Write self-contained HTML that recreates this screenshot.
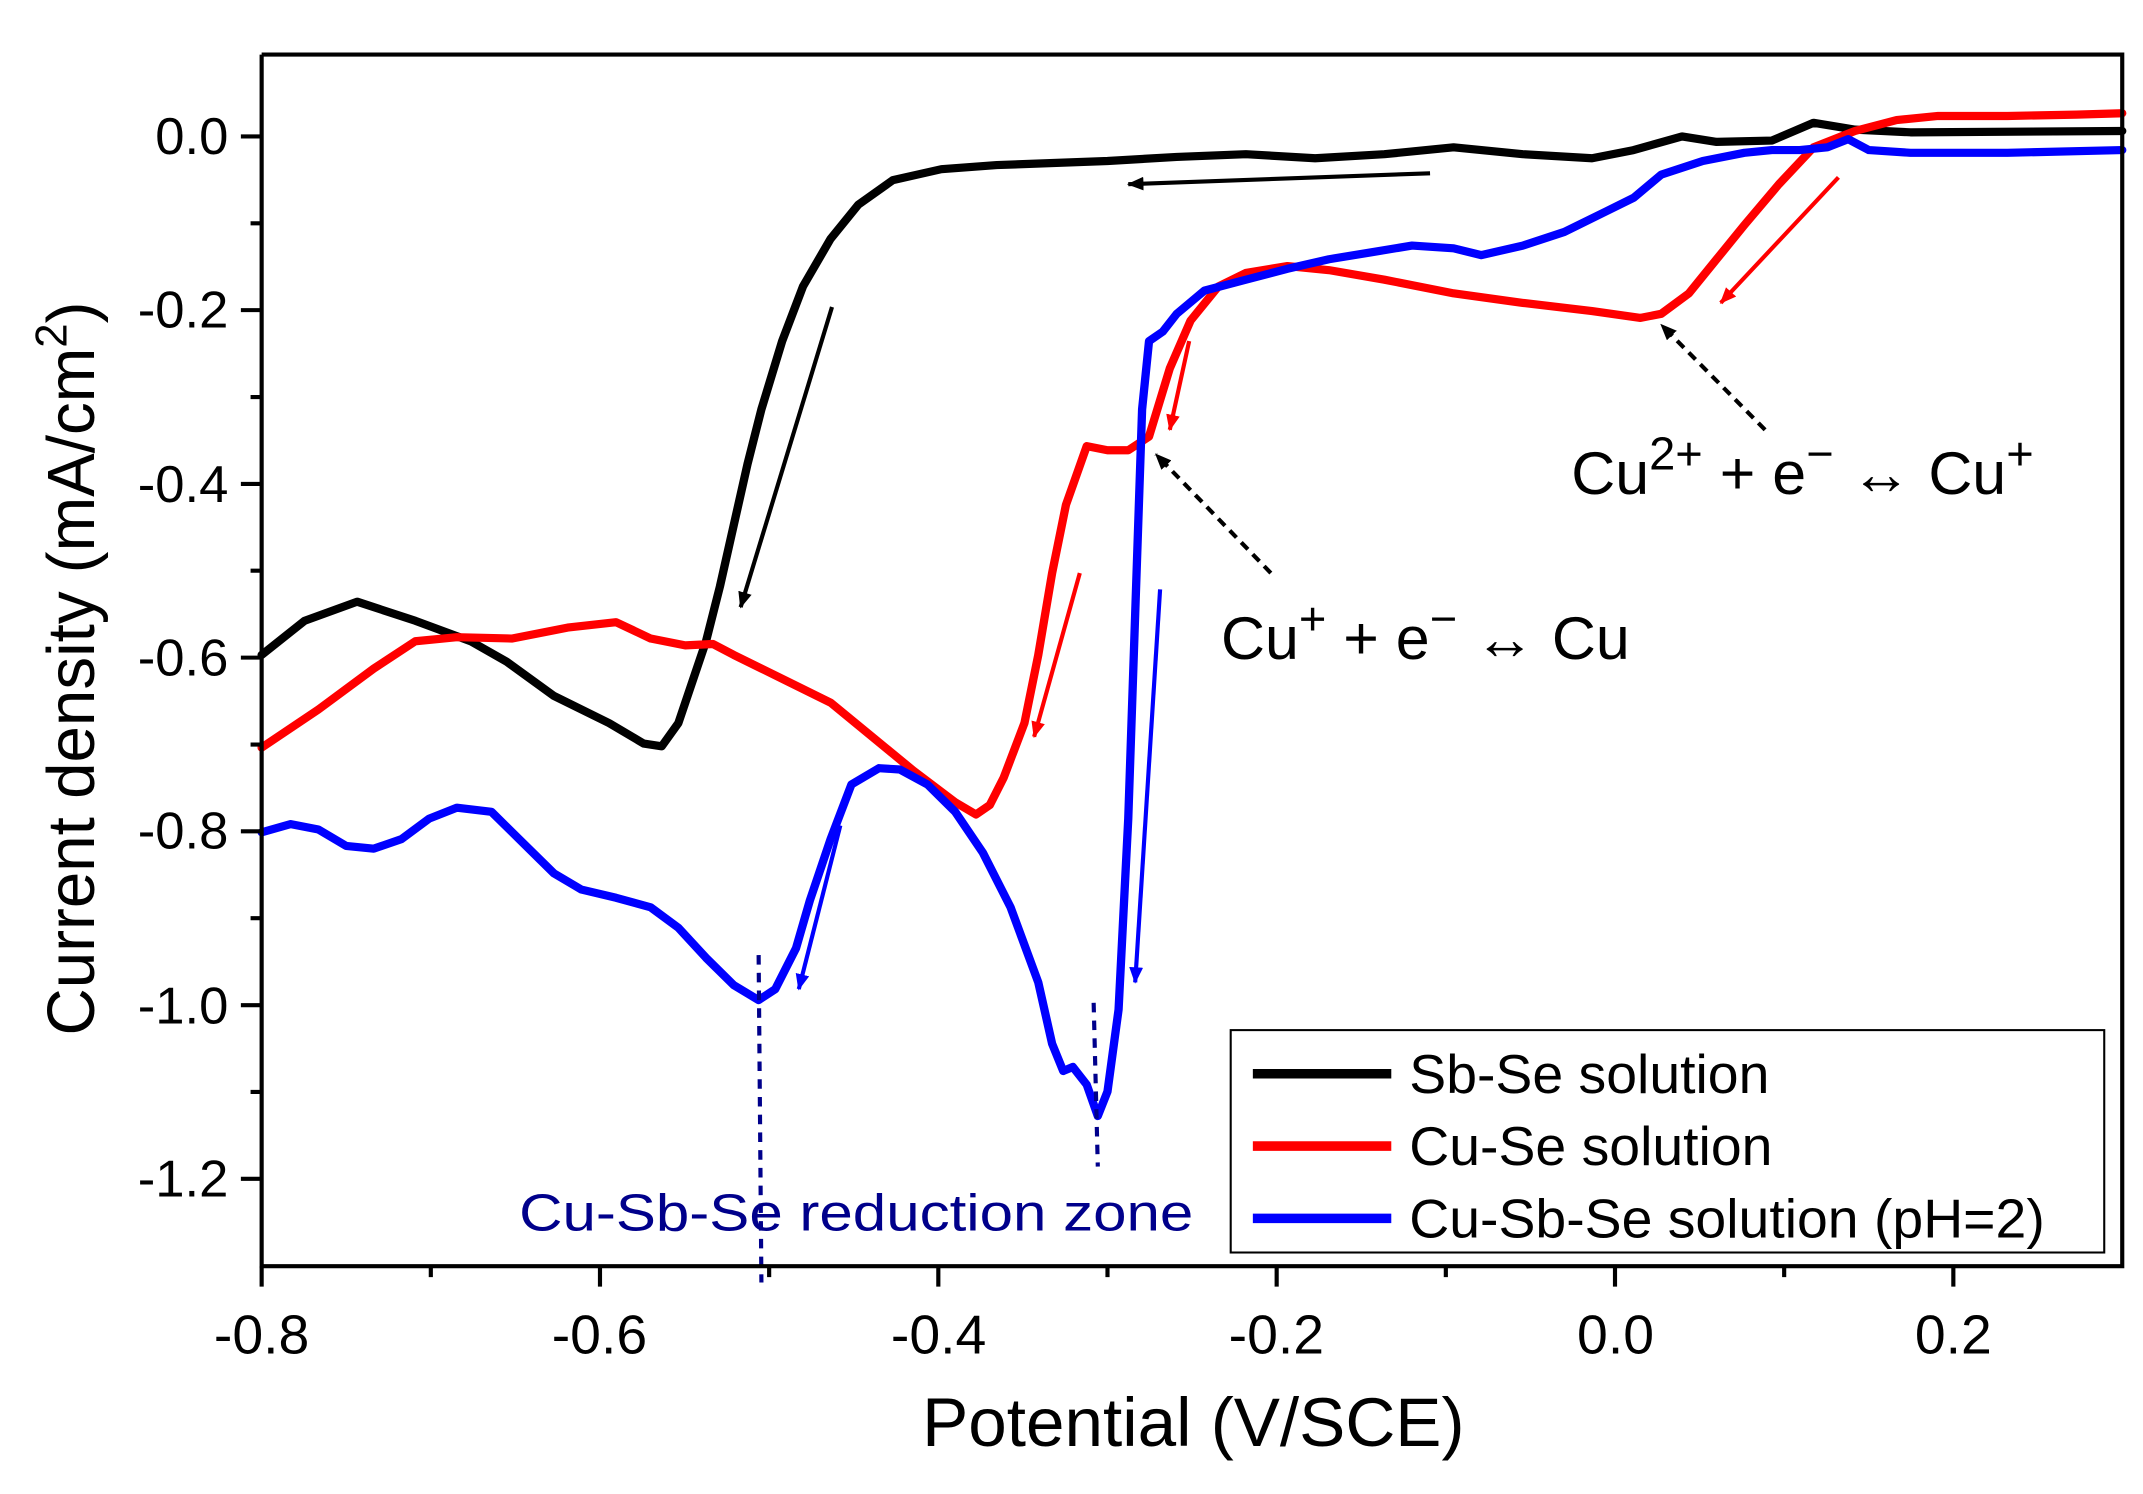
<!DOCTYPE html>
<html><head><meta charset="utf-8"><style>html,body{margin:0;padding:0;background:#fff}svg{display:block}</style></head>
<body>
<svg width="2143" height="1494" viewBox="0 0 1548 1095" preserveAspectRatio="none" xmlns="http://www.w3.org/2000/svg" font-family="Liberation Sans, sans-serif">
<rect width="1548" height="1095" fill="#fff"/>
<g fill="none" stroke-linejoin="round" stroke-linecap="round">
<polyline stroke="#000" stroke-width="6" points="189,480 220,455 258,441 300,455 340,470 366,485 400,510 440,530 465,545 478,547 490,530 500,500 510,470 520,430 530,385 540,340 550,300 565,250 580,210 600,175 620,150 645,132 680,124 720,121 800,118 850,115 900,113 950,116 1000,113 1050,108 1100,113 1150,116 1180,110 1215,100 1240,104 1280,103 1310,90 1340,95 1380,97 1533,96"/>
<polyline stroke="#f00" stroke-width="6" points="189,548 230,520 270,490 300,470 330,467 370,468 410,460 445,456 470,468 495,473 515,472 530,480 550,490 570,500 600,515 630,540 660,565 690,588 705,597 715,590 725,570 740,530 750,480 760,420 770,370 785,327 800,330 815,330 830,320 845,270 860,235 880,210 900,200 930,195 960,198 1000,205 1050,215 1100,222 1150,228 1185,233 1200,230 1220,215 1240,190 1260,165 1285,135 1310,108 1340,96 1370,88 1400,85 1450,85 1500,84 1533,83"/>
<polyline stroke="#00f" stroke-width="6" points="189,610 210,604 230,608 250,620 270,622 290,615 310,600 330,592 355,595 375,615 400,640 420,652 445,658 470,665 490,680 510,702 530,722 548,733 560,725 575,695 585,660 600,615 615,575 635,563 650,564 670,575 690,595 710,625 730,665 750,720 760,765 768,785 775,782 785,795 793,818 800,800 808,740 815,600 820,450 825,300 830,250 840,243 850,230 870,213 900,205 930,197 960,190 990,185 1020,180 1050,182 1070,187 1100,180 1130,170 1160,155 1180,145 1200,128 1230,118 1260,112 1280,110 1300,110 1320,108 1335,102 1350,110 1380,112 1450,112 1533,110"/>
</g>
<defs>
<marker id="ak" markerWidth="12" markerHeight="10" refX="11" refY="5" orient="auto" markerUnits="userSpaceOnUse"><path d="M0,0L12,5L0,10z" fill="#000"/></marker>
<marker id="ar" markerWidth="12" markerHeight="10" refX="11" refY="5" orient="auto" markerUnits="userSpaceOnUse"><path d="M0,0L12,5L0,10z" fill="#f00"/></marker>
<marker id="ab" markerWidth="12" markerHeight="10" refX="11" refY="5" orient="auto" markerUnits="userSpaceOnUse"><path d="M0,0L12,5L0,10z" fill="#00f"/></marker>
</defs>
<g stroke-width="3">
<line x1="1033" y1="127" x2="815" y2="135" stroke="#000" marker-end="url(#ak)"/>
<line x1="601" y1="225" x2="535" y2="445" stroke="#000" marker-end="url(#ak)"/>
<line x1="1328" y1="130" x2="1243" y2="222" stroke="#f00" marker-end="url(#ar)"/>
<line x1="859" y1="250" x2="845" y2="315" stroke="#f00" marker-end="url(#ar)"/>
<line x1="780" y1="420" x2="747" y2="540" stroke="#f00" marker-end="url(#ar)"/>
<line x1="838" y1="432" x2="820" y2="720" stroke="#00f" marker-end="url(#ab)"/>
<line x1="607" y1="605" x2="577" y2="725" stroke="#00f" marker-end="url(#ab)"/>
<line x1="1275" y1="315" x2="1200" y2="238" stroke="#000" stroke-dasharray="7,5" marker-end="url(#ak)"/>
<line x1="918" y1="420" x2="835" y2="333" stroke="#000" stroke-dasharray="7,5" marker-end="url(#ak)"/>
<line x1="548" y1="700" x2="550" y2="940" stroke="#00008b" stroke-dasharray="7,6"/>
<line x1="790" y1="735" x2="793" y2="855" stroke="#00008b" stroke-dasharray="7,6"/>
</g>
<text x="1135" y="362" font-size="44">Cu<tspan dy="-18" font-size="34">2+</tspan><tspan dy="18"> + e</tspan><tspan dy="-18" font-size="34">−</tspan><tspan dy="18"> ↔ Cu</tspan><tspan dy="-18" font-size="34">+</tspan></text>
<text x="882" y="483" font-size="44">Cu<tspan dy="-18" font-size="34">+</tspan><tspan dy="18"> + e</tspan><tspan dy="-18" font-size="34">−</tspan><tspan dy="18"> ↔ Cu</tspan></text>
<text x="375" y="902" font-size="38" fill="#00008b" textLength="487" lengthAdjust="spacingAndGlyphs">Cu-Sb-Se reduction zone</text>
<rect x="889" y="755" width="631" height="163" fill="#fff" stroke="#000" stroke-width="1.5"/>
<g stroke-width="7"><line x1="905" y1="787" x2="1005" y2="787" stroke="#000"/><line x1="905" y1="840" x2="1005" y2="840" stroke="#f00"/><line x1="905" y1="893" x2="1005" y2="893" stroke="#00f"/></g>
<g font-size="40"><text x="1018" y="801">Sb-Se solution</text><text x="1018" y="854">Cu-Se solution</text><text x="1018" y="907">Cu-Sb-Se solution (pH=2)</text></g>
<g stroke="#000" stroke-width="3" fill="none">
<path d="M189,40V928H1533V40H189"/>
<path d="M174,100H189M174,227.3H189M174,354.7H189M174,482H189M174,609.3H189M174,736.7H189M174,864H189"/>
<path d="M181,163.7H189M181,291H189M181,418.3H189M181,545.7H189M181,673H189M181,800.3H189"/>
<path d="M189,928V943M433.4,928V943M677.8,928V943M922.2,928V943M1166.6,928V943M1411,928V943"/>
<path d="M311.2,928V936M555.6,928V936M800,928V936M1044.4,928V936M1288.8,928V936"/>
</g>
<g font-size="38" text-anchor="end"><text x="165" y="113">0.0</text><text x="165" y="240">-0.2</text><text x="165" y="368">-0.4</text><text x="165" y="495">-0.6</text><text x="165" y="622">-0.8</text><text x="165" y="750">-1.0</text><text x="165" y="877">-1.2</text></g>
<g font-size="40" text-anchor="middle"><text x="189" y="992">-0.8</text><text x="433" y="992">-0.6</text><text x="678" y="992">-0.4</text><text x="922" y="992">-0.2</text><text x="1167" y="992">0.0</text><text x="1411" y="992">0.2</text></g>
<text x="862" y="1060" font-size="50" text-anchor="middle">Potential (V/SCE)</text>
<text transform="translate(68,490) rotate(-90)" font-size="48" text-anchor="middle">Current density (mA/cm<tspan dy="-20" font-size="32">2</tspan><tspan dy="20">)</tspan></text>
</svg>
</body></html>
